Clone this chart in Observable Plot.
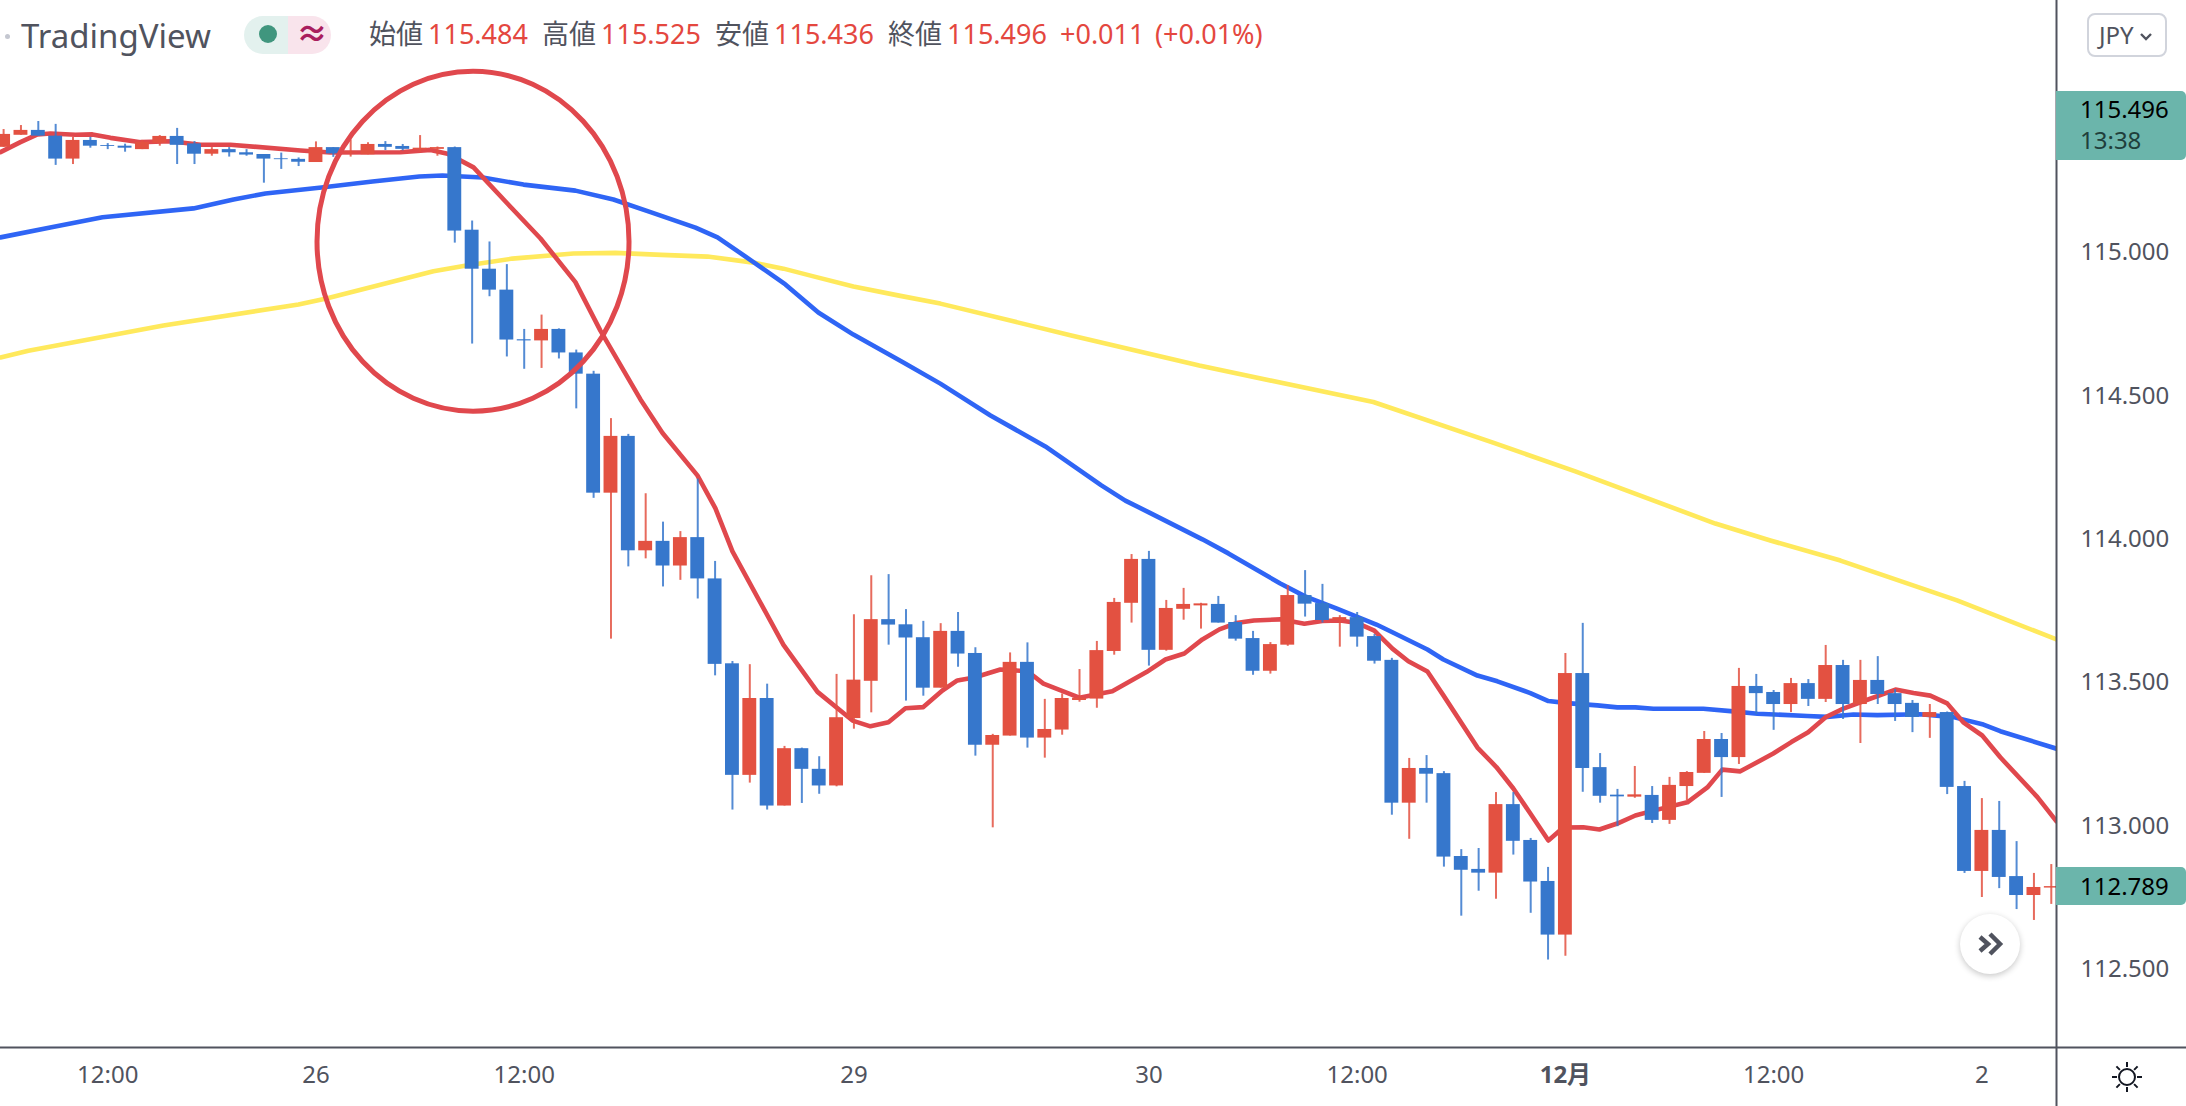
<!DOCTYPE html>
<html lang="ja"><head><meta charset="utf-8">
<script src="https://cdn.jsdelivr.net/npm/d3@7"></script>
<script src="https://cdn.jsdelivr.net/npm/@observablehq/plot@0.6"></script>
<style>
html,body{margin:0;padding:0;background:#fff;overflow:hidden;width:2186px;height:1106px}
#wrap{position:relative;width:2186px;height:1106px;font-family:"Noto Sans","Noto Sans CJK JP",sans-serif}
#chart{position:absolute;left:0;top:0}
.o{position:absolute;white-space:nowrap;line-height:1}
.l{color:#50535e;font-size:27px;top:20px}
.v{color:#e4473f;font-size:27px;top:20px}
</style></head><body>
<div id="wrap"><div id="chart"></div>
<div class="o" style="left:5px;top:34px;width:5px;height:5px;border-radius:50%;background:#c4c7d0"></div>
<div class="o" style="left:21px;top:19px;font-size:33px;color:#50535e">TradingView</div>
<div class="o" style="left:244px;top:16px;width:44px;height:38px;background:#e3f1ee;border-radius:19px 0 0 19px"></div>
<div class="o" style="left:288px;top:16px;width:43px;height:38px;background:#f9e4ec;border-radius:0 19px 19px 0"></div>
<div class="o" style="left:259px;top:25px;width:18px;height:18px;border-radius:50%;background:#40967e"></div>
<div class="o" style="left:296px;top:17px;font-size:32px;font-weight:700;color:#a91e5e">≈</div>
<div class="o l" style="left:369px">始値</div><div class="o v" style="left:428px">115.484</div>
<div class="o l" style="left:542px">高値</div><div class="o v" style="left:601px">115.525</div>
<div class="o l" style="left:715px">安値</div><div class="o v" style="left:774px">115.436</div>
<div class="o l" style="left:888px">終値</div><div class="o v" style="left:947px">115.496</div>
<div class="o v" style="left:1060px">+0.011</div><div class="o v" style="left:1155px">(+0.01%)</div>
<div class="o" style="left:2087px;top:13px;width:76px;height:40px;border:2px solid #d1d4dc;border-radius:8px;font-size:24px;color:#50535e;line-height:40px;text-indent:10px">JPY<svg width="14" height="10" viewBox="0 0 14 10" style="margin-left:5px;vertical-align:2px"><path d="M2 2l5 5 5-5" fill="none" stroke="#50535e" stroke-width="2.4"/></svg></div>
<div class="o" style="left:2056px;top:91px;width:130px;height:69px;background:#6bb5ab;border-radius:0 5px 5px 0"></div>
<div class="o" style="left:2080px;top:97px;font-size:24px;color:#000">115.496</div>
<div class="o" style="left:2080px;top:128px;font-size:24px;color:#1f3f3b">13:38</div>
<div class="o" style="left:2056px;top:867px;width:130px;height:38px;background:#6bb5ab;border-radius:0 5px 5px 0"></div>
<div class="o" style="left:2080px;top:874px;font-size:24px;color:#000">112.789</div>
<div class="o" style="left:1960px;top:914px;width:60px;height:60px;border-radius:50%;background:#fff;box-shadow:0 2px 6px rgba(0,0,0,.22)"><svg width="60" height="60" viewBox="0 0 60 60"><path d="M20 23l8 7-8 7M30 20l10 10-10 10" fill="none" stroke="#50535e" stroke-width="4.5"/></svg></div>
<div class="o" style="left:2109px;top:1059px;width:36px;height:36px"><svg width="36" height="36" viewBox="0 0 36 36"><circle cx="18" cy="18" r="8" fill="none" stroke="#131722" stroke-width="2"/><path d="M18 3v5M18 28v5M3 18h5M28 18h5M7.4 7.4l3.5 3.5M25.1 25.1l3.5 3.5M7.4 28.6l3.5-3.5M25.1 10.9l3.5-3.5" stroke="#131722" stroke-width="2"/></svg></div>
</div>
<script>
// Hourly candles, left to right
const open = [115.367,115.409,115.426,115.406,115.326,115.391,115.373,115.371,115.359,115.381,115.405,115.379,115.343,115.359,115.348,115.342,115.327,115.325,115.314,115.366,115.347,115.341,115.377,115.370,115.358,115.360,115.366,
115.078,114.942,114.869,114.696,114.692,114.732,114.650,114.576,114.161,114.359,113.960,113.993,113.907,114.006,113.862,113.566,113.177,113.445,113.070,113.270,113.198,113.140,113.375,113.505,113.720,113.702,113.657,113.481,113.679,113.602,113.282,113.314,113.571,113.307,113.335,113.438,113.443,113.609,113.777,113.930,113.613,113.756,113.768,113.773,113.710,113.654,113.540,113.631,113.804,113.776,113.717,113.727,113.661,113.578,113.080,113.201,113.183,112.894,112.849,112.836,113.075,112.950,112.807,112.620,113.532,113.204,113.108,113.101,113.107,113.020,113.138,113.184,113.302,113.239,113.487,113.466,113.424,113.497,113.442,113.560,113.424,113.508,113.462,113.428,113.379,113.396,113.138,112.842,112.985,112.824,112.758,112.784];
const close = [115.412,115.426,115.406,115.326,115.391,115.371,115.370,115.364,115.385,115.405,115.374,115.343,115.359,115.348,115.340,115.326,115.324,115.315,115.366,115.344,115.350,115.377,115.367,115.360,115.364,115.366,115.075,
114.942,114.869,114.695,114.692,114.732,114.650,114.576,114.161,114.359,113.960,113.993,113.907,114.006,113.862,113.564,113.177,113.445,113.070,113.270,113.198,113.140,113.378,113.509,113.720,113.701,113.656,113.481,113.679,113.600,113.282,113.316,113.571,113.307,113.337,113.445,113.446,113.612,113.780,113.930,113.613,113.759,113.773,113.775,113.708,113.652,113.540,113.633,113.804,113.774,113.717,113.727,113.659,113.575,113.080,113.201,113.181,112.892,112.846,112.836,113.075,112.947,112.805,112.620,113.532,113.201,113.104,113.102,113.109,113.020,113.142,113.187,113.302,113.239,113.487,113.462,113.424,113.497,113.442,113.560,113.424,113.508,113.459,113.424,113.379,113.396,113.135,112.842,112.985,112.821,112.758,112.786,112.789];
const high = [115.429,115.443,115.457,115.447,115.402,115.402,115.380,115.378,115.391,115.408,115.433,115.387,115.366,115.366,115.359,115.342,115.347,115.330,115.386,115.366,115.393,115.383,115.387,115.377,115.408,115.368,115.368,
115.110,115.037,114.958,114.732,114.782,114.734,114.660,114.586,114.421,114.366,114.159,114.060,114.027,114.210,113.923,113.574,113.563,113.495,113.278,113.272,113.242,113.529,113.737,113.873,113.877,113.755,113.714,113.706,113.745,113.622,113.320,113.604,113.639,113.442,113.461,113.546,113.644,113.794,113.947,113.958,113.787,113.829,113.777,113.801,113.734,113.679,113.640,113.839,113.891,113.843,113.734,113.745,113.668,113.585,113.236,113.246,113.190,112.918,112.922,113.117,113.117,112.957,112.856,113.602,113.707,113.253,113.128,113.208,113.138,113.170,113.190,113.330,113.323,113.550,113.529,113.473,113.515,113.511,113.630,113.578,113.578,113.591,113.476,113.438,113.424,113.398,113.156,113.096,113.086,112.946,112.835,112.866];
const low = [115.367,115.409,115.406,115.304,115.307,115.364,115.359,115.350,115.359,115.371,115.307,115.307,115.336,115.333,115.336,115.242,115.290,115.300,115.314,115.332,115.333,115.341,115.356,115.355,115.350,115.336,115.033,
114.681,114.846,114.636,114.593,114.596,114.629,114.455,114.143,113.652,113.904,113.932,113.834,113.857,113.792,113.524,113.056,113.150,113.056,113.070,113.079,113.111,113.137,113.338,113.395,113.631,113.436,113.453,113.481,113.554,113.244,112.994,113.314,113.272,113.237,113.317,113.432,113.411,113.596,113.708,113.558,113.610,113.718,113.687,113.708,113.645,113.526,113.530,113.627,113.729,113.708,113.624,113.624,113.565,113.038,112.954,113.080,112.857,112.686,112.773,112.745,112.899,112.696,112.533,112.546,113.118,113.080,112.998,113.097,113.009,113.006,113.089,113.184,113.100,113.215,113.389,113.334,113.396,113.417,113.431,113.372,113.288,113.424,113.365,113.326,113.306,113.110,112.835,112.751,112.782,112.709,112.671,112.727];

// Moving averages: candle position and price at each vertex
const redI = [-0.18,0.97,1.95,2.7,4.14,5.12,6.16,7.89,9.62,11.35,13.07,17.11,18.84,22.87,24.6,25.58,27.08,29.03,30.94,32.95,34.39,36.7,37.97,39.98,41.02,42,44.94,46.9,48.92,49.95,50.99,51.97,53,54.1,54.96,55.94,57.44,59,59.92,61.99,63.89,65.86,66.95,68.04,69.08,70.06,71.04,72.05,73.57,74.96,75.99,77.03,78.01,78.99,80.03,80.95,82.05,82.97,84.93,86.02,87,87.98,89.02,89.88,91.03,91.96,92.99,94.03,95.07,97.03,98.18,99.04,100.08,101.98,103.02,103.99,104.98,106.02,107,109.02,110.06,111.03,112,112.93,114.02,115.06,117.2,118.3];
const redP = [115.35,115.385,115.412,115.415,115.411,115.412,115.4,115.385,115.388,115.376,115.376,115.356,115.349,115.35,115.358,115.345,115.297,115.171,115.049,114.897,114.728,114.488,114.371,114.223,114.108,113.958,113.632,113.468,113.368,113.348,113.362,113.411,113.415,113.473,113.508,113.518,113.546,113.54,113.497,113.448,113.47,113.537,113.581,113.602,113.651,113.686,113.708,113.717,113.721,113.706,113.715,113.717,113.708,113.682,113.619,113.575,113.539,113.456,113.274,113.206,113.131,113.044,112.95,112.995,112.996,112.988,113.009,113.037,113.054,113.083,113.135,113.197,113.191,113.253,113.293,113.327,113.379,113.41,113.432,113.476,113.464,113.455,113.428,113.362,113.316,113.24,113.101,113.017];
const blueI = [-0.18,2.76,5.7,10.94,13.25,15.09,18.32,21.26,23.96,25.29,27.6,29.96,32.95,35.14,37.28,39.87,41.14,43.21,45.05,46.95,48.97,51.85,53.98,56.87,60.03,63.26,64.64,65.97,69.08,70.58,73.57,75,76.8,79.11,80.03,82.05,82.97,84.93,86.08,87.98,89.02,90.11,91.84,92.99,94.03,95.07,97.95,99.68,101.06,103.94,105.08,106.6,107.97,110.45,112.36,114.09,115.06,118.3];
const blueP = [115.053,115.088,115.123,115.154,115.185,115.206,115.227,115.248,115.265,115.269,115.262,115.237,115.216,115.185,115.141,115.087,115.053,114.967,114.889,114.791,114.714,114.617,114.543,114.432,114.324,114.188,114.135,114.095,114,113.951,113.846,113.801,113.759,113.703,113.676,113.616,113.581,113.525,113.505,113.464,113.436,113.429,113.421,113.414,113.414,113.409,113.409,113.4,113.392,113.384,113.381,113.389,113.387,113.39,113.38,113.354,113.331,113.27];
const yellowI = [-0.18,1.43,9.21,16.99,18.6,24.77,26.67,29.32,32.84,35.26,37.91,40.56,43.21,44.94,46.67,48.97,51.68,53.98,61.53,68.9,78.93,85.79,90.57,98.64,101.81,105.85,112.57,118.3];
const yellowP = [114.634,114.658,114.746,114.819,114.84,114.935,114.955,114.979,114.997,114.999,114.992,114.986,114.965,114.944,114.917,114.882,114.849,114.822,114.711,114.606,114.479,114.338,114.237,114.055,113.996,113.926,113.787,113.651];

// Hand-drawn circle annotation, points read around its outline
const circleI = [36.04,35.35,33.40,30.49,27.05,23.61,20.69,18.74,18.06,18.74,20.69,23.61,27.05,30.49,33.40,35.35];
const circleP = [115.039,115.266,115.458,115.587,115.632,115.587,115.458,115.266,115.039,114.812,114.620,114.492,114.447,114.492,114.620,114.812];

const priceTicks = [112.5,113,113.5,114,114.5,115];
const timeTicks = [6,18,30,49,66,78,102,114];
const timeLabels = ["12:00","26","12:00","29","30","12:00","12:00","2"];
const monthTick = [90];
const monthLabel = "12月";

const candles = open.map((o,i)=>({i,o,c:close[i],h:high[i],l:low[i]}));
const pts = (xs,ys)=>xs.map((x,k)=>({x,y:ys[k]}));
const upC="#e35141", downC="#3677cc";
const colorOf=d=>d.c>=d.o?upC:downC;
const xMin=-0.179,xMax=118.3,xFar=125.8,yMin=112.228,yMax=115.879,yFar=112.02;

const chart = Plot.plot({
  width:2186,height:1106,marginLeft:0,marginRight:130,marginTop:0,marginBottom:59,
  style:{background:"transparent",fontFamily:'"Noto Sans","Noto Sans CJK JP",sans-serif',color:"#50535e",overflow:"visible"},
  x:{domain:[xMin,xMax],axis:null},
  y:{domain:[yMin,yMax],axis:null},
  marks:[
    Plot.line(pts(yellowI,yellowP),{x:"x",y:"y",stroke:"#ffe95c",strokeWidth:4.6,clip:true}),
    Plot.line(pts(blueI,blueP),{x:"x",y:"y",stroke:"#2f65f5",strokeWidth:4.6,clip:true}),
    Plot.line(pts(redI,redP),{x:"x",y:"y",stroke:"#e0484d",strokeWidth:4.6,clip:true}),
    Plot.ruleX(candles,{x:"i",y1:"l",y2:"h",stroke:colorOf,strokeWidth:2,strokeOpacity:0.85}),
    Plot.rectY(candles,{x1:d=>d.i-0.4,x2:d=>d.i+0.4,y1:d=>Math.min(d.o,d.c),y2:d=>Math.max(d.o,d.c),fill:colorOf,inset:0,clip:true}),
    Plot.line(pts(circleI,circleP),{x:"x",y:"y",stroke:"#e0484d",strokeWidth:5,curve:"catmull-rom-closed"}),
    Plot.ruleX([xMax],{y1:yFar,y2:yMax,stroke:"#50535e",strokeWidth:2}),
    Plot.ruleY([yMin],{x1:xMin,x2:xFar,stroke:"#50535e",strokeWidth:2}),
    Plot.axisY(priceTicks,{anchor:"right",tickSize:0,tickPadding:24,fontSize:24,tickFormat:d=>d.toFixed(3),label:null,fill:"#50535e"}),
    Plot.axisX(timeTicks,{anchor:"bottom",tickSize:0,tickPadding:18,fontSize:24,tickFormat:d=>timeLabels[timeTicks.indexOf(d)],label:null,fill:"#50535e"}),
    Plot.axisX(monthTick,{anchor:"bottom",tickSize:0,tickPadding:18,fontSize:24,fontWeight:700,tickFormat:()=>monthLabel,label:null,fill:"#50535e"})
  ]
});
document.getElementById("chart").append(chart);
</script></body></html>
